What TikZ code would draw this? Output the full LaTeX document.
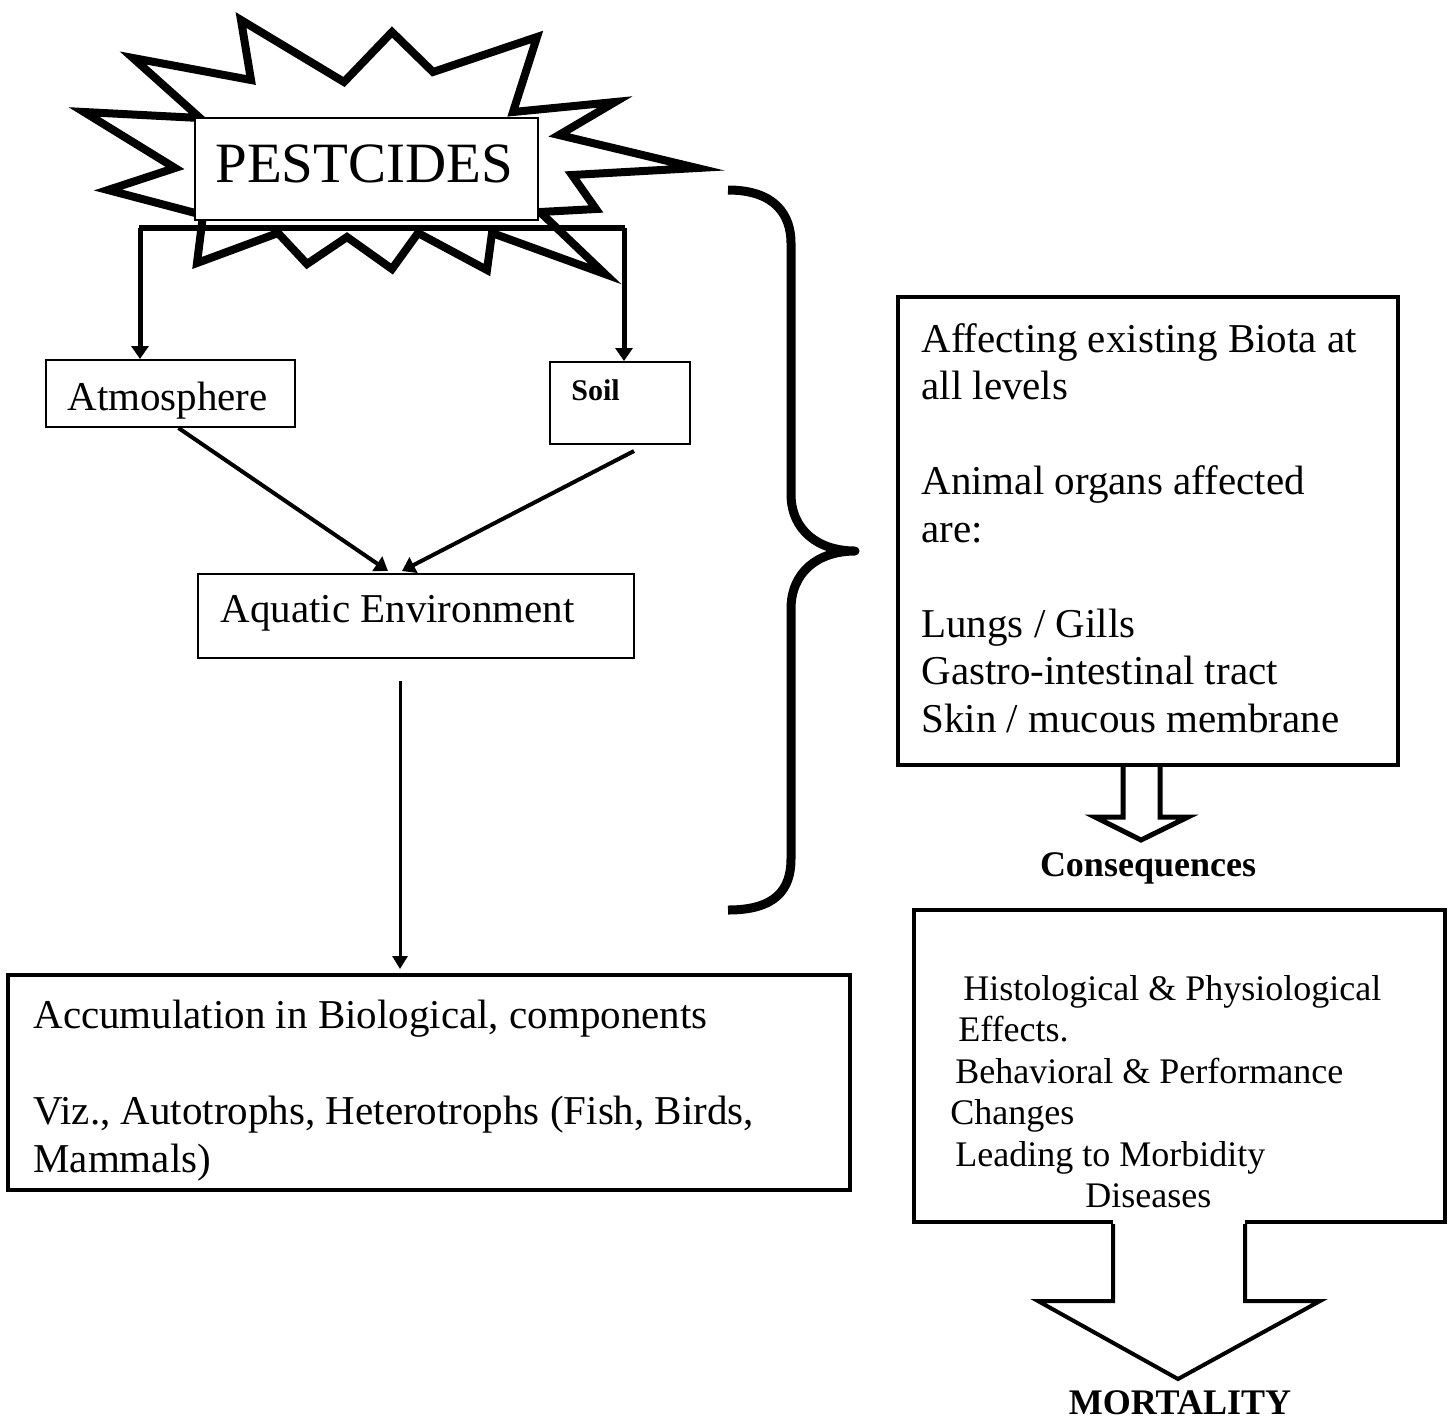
\documentclass[tikz,border=0pt]{standalone}
\usepackage{fontspec}
\setmainfont{Liberation Serif}
\usetikzlibrary{arrows.meta,calc,fit}
\newcommand\fBody{\fontsize{20.5pt}{23.75pt}\selectfont}
\newcommand\fSmall{\fontsize{18pt}{20.75pt}\selectfont}
\newcommand\fBold{\fontsize{18pt}{21pt}\selectfont\bfseries}
\begin{document}
\begin{tikzpicture}[x=0.5pt,y=-0.5pt,
  thinbox/.style={draw,line width=1pt,fill=white,inner sep=0pt},
  thickbox/.style={draw,line width=2pt,fill=white,inner sep=0pt},
  txt/.style={inner sep=0pt,font=\fBody},
  arr/.style={line width=2pt,-{Triangle[width=8.5pt,length=6.5pt]}},
  arrthin/.style={line width=1.5pt,-{Triangle[width=7.5pt,length=6.5pt]}},
  blockarrow/.style={line width=2.5pt,line join=miter},
]
\useasboundingbox (0,0) rectangle (1456,1421);

% starburst
\draw[line width=4pt,line join=miter,fill=white]
  (241,20) -- (344,82) -- (392,32) -- (433,72) -- (537,37) -- (513,112)
  -- (615,102) -- (559,135) -- (697,168) -- (572,175) -- (596,209)
  -- (540,212) -- (605,274) -- (492,233) -- (487,270) -- (418,233)
  -- (392,269) -- (347,237) -- (307,264) -- (278,233) -- (197,263)
  -- (203,215) -- (108,190) -- (175,168) -- (84,112) -- (200,118)
  -- (133,58) -- (251,80) -- cycle;

% boxes
\node[thinbox,fit={(195,118) (538,220)}] (pest) {};
\node[txt,font=\fontsize{28.5pt}{32pt}\selectfont,anchor=base west] (tpest) at (215,182) {PESTCIDES};

\node[thinbox,fit={(46,360) (295,427)}] (atm) {};
\node[txt,anchor=base west] (tatm) at (67,410) {Atmosphere};

\node[thinbox,fit={(550,362) (690,444)}] (soil) {};
\node[txt,font=\fontsize{15pt}{18pt}\selectfont\bfseries,anchor=base west] (tsoil) at (571,400) {Soil};

\node[thinbox,fit={(198,574) (634,658)}] (aq) {};
\node[txt,anchor=base west] (taq) at (220,622) {Aquatic Environment};

\node[thickbox,fit={(8,975) (850,1190)}] (acc) {};
\node[txt,font=\fontsize{20.5pt}{24pt}\selectfont,anchor=north west,align=left] (tacc) at (33,1000)
  {Accumulation in Biological, components\\[24pt]Viz., Autotrophs, Heterotrophs (Fish, Birds,\\Mammals)};

\node[thickbox,fit={(898,297) (1398,765)}] (rb) {};
\node[txt,anchor=north west,align=left] (trb) at (921,323)
  {Affecting existing Biota at\\all levels\\[23.75pt]Animal organs affected\\are:\\[23.75pt]Lungs / Gills\\Gastro-intestinal tract\\Skin / mucous membrane};

\node[thickbox,fit={(914,910) (1445,1222)}] (mb) {};
\node[txt,font=\fSmall,anchor=north west,align=left] (tmb) at (950,975)
  {\hspace*{6.5pt}Histological \& Physiological\\\hspace*{4pt}Effects.\\\hspace*{2.5pt}Behavioral \& Performance\\Changes\\\hspace*{2.5pt}Leading to Morbidity\\\hspace*{67.5pt}Diseases};

% bar and branch arrows
\coordinate (bl) at (140,228);
\coordinate (br) at (624,228);
\draw[line width=3pt] ($(bl)+(-1,0)$) -- ($(br)+(1,0)$);
\draw[arr,line width=2.5pt] (bl) -- (bl |- atm.north);
\draw[arr,line width=2.5pt] (br) -- (br |- soil.north);

% converging arrows
\draw[arr] ($(atm.south)+(8,0)$) -- ($(aq.north)+(-28,-2)$);
\draw[arr] ($(soil.south)+(14,6)$) -- ($(aq.north)+(-14,-2)$);

\coordinate (s) at ($(aq.south)+(-16,22)$);
\draw[arrthin] (s) -- ($(s |- acc.north)+(0,-4)$);

% brace
\draw[line width=4.5pt,line join=round]
  (728,190) .. controls (775,190) and (791,215) .. (791,243) -- (791,494)
  .. controls (791,530) and (818,551) .. (855,551)
  .. controls (818,551) and (791,572) .. (791,609) -- (791,859)
  .. controls (791,890) and (775,910) .. (728,910);

% small block arrow
\draw[blockarrow] ($(rb.south)+(-25,0)$) -- ++(0,50) -- ++(-28,0) -- ++(46,23)
  -- ++(47,-23) -- ++(-28,0) -- ++(0,-50);
\node[txt,font=\fBold,anchor=base] (cons) at (1148,876) {Consequences};

% big block arrow
\fill[white] ($(mb.south)+(-66.5,-4)$) rectangle ($(mb.south)+(65.5,4)$);
\draw[line width=2pt,line join=miter] ($(mb.south)+(-66.5,0)$) -- ++(0,77) -- ++(-75,0)
  -- ++(140,78) -- ++(142,-78) -- ++(-75,0) -- ++(0,-77);
\node[txt,font=\fBold,anchor=base] (mort) at (1180,1414) {MORTALITY};
\end{tikzpicture}
\end{document}
